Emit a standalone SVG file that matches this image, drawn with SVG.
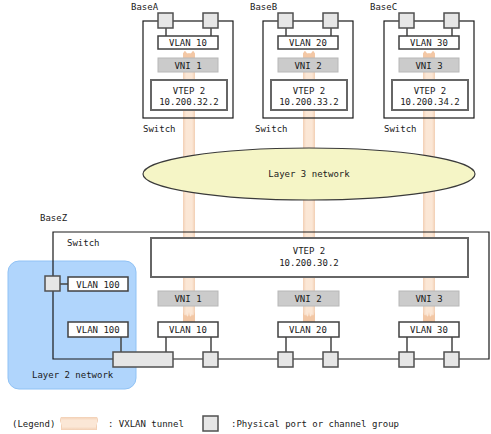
<svg xmlns="http://www.w3.org/2000/svg" width="491" height="434" viewBox="0 0 491 434">
<defs>
<linearGradient id="tg" x1="0" y1="0" x2="1" y2="0">
<stop offset="0" stop-color="#f2cfb4"/>
<stop offset="0.25" stop-color="#fbe7d6"/>
<stop offset="0.75" stop-color="#fbe7d6"/>
<stop offset="1" stop-color="#f2cfb4"/>
</linearGradient>
<linearGradient id="tgh" x1="0" y1="0" x2="0" y2="1">
<stop offset="0" stop-color="#f2cfb4"/>
<stop offset="0.25" stop-color="#fbe7d6"/>
<stop offset="0.75" stop-color="#fbe7d6"/>
<stop offset="1" stop-color="#f2cfb4"/>
</linearGradient>
<g id="tun">
<rect x="-6" y="53" width="12" height="269" fill="url(#tg)"/>
<path d="M-6,58 L-6,54 Q-4.5,49 -3,52 Q-1.5,55 0,53 Q1.5,55 3,52 Q4.5,49 6,54 L6,58 Z" fill="#f3c8a6"/>
<path d="M-6,322 L-6,312 Q-4,318 -3,314 Q-1,320 0,312 Q1,320 3,314 Q4,318 6,312 L6,322 Z" fill="#f2c7a5"/>
</g>
</defs>
<style>
.t{font-family:"DejaVu Sans Mono","Liberation Mono",monospace;font-size:9px;fill:#1a1a1a}
.m{text-anchor:middle}
.ln{stroke:#1a1a1a;stroke-width:1.2;fill:none}
.sl{stroke:#444;stroke-width:1.5;fill:none}
.port{fill:#e6e6e6;stroke:#505050;stroke-width:1.5}
.vlan{fill:#fff;stroke:#404040;stroke-width:1.5}
.vni{fill:#cbcbcb;stroke:#b8b8b8;stroke-width:1}
.vtep{fill:#fff;stroke:#666;stroke-width:2}
</style>
<rect width="491" height="434" fill="#fff"/>

<g id="connectors">
<use href="#tun" x="189" y="0"/>
<use href="#tun" x="309" y="0"/>
<use href="#tun" x="429" y="0"/>
</g>

<g id="layer3">
<ellipse cx="309" cy="174" rx="166" ry="26" fill="#f5f5c6" stroke="#3a3a3a" stroke-width="1.2"/>
<text class="t m" x="309" y="177">Layer 3 network</text>
</g>

<g id="switchA">
<text class="t" x="131" y="10">BaseA</text>
<rect x="143" y="21" width="90" height="97" class="ln"/>
<line x1="166" y1="28" x2="166" y2="36" class="sl"/>
<line x1="211" y1="28" x2="211" y2="36" class="sl"/>
<rect x="158" y="13" width="15" height="15" class="port"/>
<rect x="203" y="13" width="15" height="15" class="port"/>
<rect x="158" y="36" width="60" height="13" class="vlan"/>
<text class="t m" x="188" y="46">VLAN 10</text>
<rect x="158" y="58" width="60" height="14" class="vni"/>
<text class="t m" x="188" y="69">VNI 1</text>
<rect x="151" y="80" width="76" height="30" class="vtep"/>
<text class="t m" x="189" y="94">VTEP 2</text>
<text class="t m" x="189" y="105">10.200.32.2</text>
<text class="t" x="143" y="132">Switch</text>
</g>

<g id="switchB">
<text class="t" x="250" y="10">BaseB</text>
<rect x="263" y="21" width="90" height="97" class="ln"/>
<line x1="286" y1="28" x2="286" y2="36" class="sl"/>
<line x1="331" y1="28" x2="331" y2="36" class="sl"/>
<rect x="278" y="13" width="15" height="15" class="port"/>
<rect x="323" y="13" width="15" height="15" class="port"/>
<rect x="278" y="36" width="60" height="13" class="vlan"/>
<text class="t m" x="308" y="46">VLAN 20</text>
<rect x="278" y="58" width="60" height="14" class="vni"/>
<text class="t m" x="308" y="69">VNI 2</text>
<rect x="271" y="80" width="76" height="30" class="vtep"/>
<text class="t m" x="309" y="94">VTEP 2</text>
<text class="t m" x="309" y="105">10.200.33.2</text>
<text class="t" x="255" y="132">Switch</text>
</g>

<g id="switchC">
<text class="t" x="370" y="10">BaseC</text>
<rect x="384" y="21" width="90" height="97" class="ln"/>
<line x1="407" y1="28" x2="407" y2="36" class="sl"/>
<line x1="452" y1="28" x2="452" y2="36" class="sl"/>
<rect x="399" y="13" width="15" height="15" class="port"/>
<rect x="444" y="13" width="15" height="15" class="port"/>
<rect x="399" y="36" width="60" height="13" class="vlan"/>
<text class="t m" x="429" y="46">VLAN 30</text>
<rect x="399" y="58" width="60" height="14" class="vni"/>
<text class="t m" x="429" y="69">VNI 3</text>
<rect x="392" y="80" width="76" height="30" class="vtep"/>
<text class="t m" x="430" y="94">VTEP 2</text>
<text class="t m" x="430" y="105">10.200.34.2</text>
<text class="t" x="384" y="132">Switch</text>
</g>

<g id="layer2">
<rect x="8" y="261" width="128" height="128" rx="11" ry="11" fill="#b0d5fc" stroke="#90c2f5" stroke-width="1"/>
<text class="t" x="32" y="378">Layer 2 network</text>
</g>

<g id="switchZ">
<text class="t" x="40" y="221">BaseZ</text>
<path d="M53,359 L53,232 L489,232 L489,359 Z" class="ln"/>
<text class="t" x="67" y="246">Switch</text>
<rect x="151" y="238" width="317" height="39" class="vtep"/>
<text class="t m" x="309" y="254">VTEP 2</text>
<text class="t m" x="309" y="266">10.200.30.2</text>
<line x1="60" y1="284" x2="68" y2="284" class="sl"/>
<rect x="45" y="276" width="15" height="15" class="port"/>
<rect x="68" y="277" width="60" height="14" class="vlan"/>
<text class="t m" x="98" y="288">VLAN 100</text>
<line x1="121" y1="337" x2="121" y2="352" class="sl"/>
<rect x="68" y="322" width="60" height="15" class="vlan"/>
<text class="t m" x="98" y="333">VLAN 100</text>
<rect x="158" y="291" width="60" height="15" class="vni"/>
<text class="t m" x="188" y="302">VNI 1</text>
<rect x="278" y="291" width="61" height="15" class="vni"/>
<text class="t m" x="308" y="302">VNI 2</text>
<rect x="399" y="291" width="60" height="15" class="vni"/>
<text class="t m" x="429" y="302">VNI 3</text>
<line x1="166" y1="337" x2="166" y2="352" class="sl"/>
<line x1="211" y1="337" x2="211" y2="352" class="sl"/>
<line x1="286" y1="337" x2="286" y2="352" class="sl"/>
<line x1="331" y1="337" x2="331" y2="352" class="sl"/>
<line x1="407" y1="337" x2="407" y2="352" class="sl"/>
<line x1="452" y1="337" x2="452" y2="352" class="sl"/>
<rect x="158" y="322" width="60" height="15" class="vlan"/>
<text class="t m" x="188" y="333">VLAN 10</text>
<rect x="278" y="322" width="61" height="15" class="vlan"/>
<text class="t m" x="308" y="333">VLAN 20</text>
<rect x="399" y="322" width="60" height="15" class="vlan"/>
<text class="t m" x="429" y="333">VLAN 30</text>
<rect x="113" y="352" width="60" height="15" class="port"/>
<rect x="203" y="352" width="15" height="15" class="port"/>
<rect x="278" y="352" width="15" height="15" class="port"/>
<rect x="323" y="352" width="15" height="15" class="port"/>
<rect x="399" y="352" width="15" height="15" class="port"/>
<rect x="444" y="352" width="15" height="15" class="port"/>
</g>

<g id="legend">
<text class="t" x="12" y="427">(Legend)</text>
<rect x="61" y="417" width="36" height="13" fill="url(#tgh)"/>
<path d="M61,417 Q59,420 61,423.5 Q63,427 61,430 Z M97,417 Q99,420 97,423.5 Q95,427 97,430 Z" fill="#f2cfb4"/>
<text class="t" x="108" y="427">: VXLAN tunnel</text>
<rect x="203" y="416" width="15" height="15" class="port"/>
<text class="t" x="231" y="427">:Physical port or channel group</text>
</g>
</svg>
